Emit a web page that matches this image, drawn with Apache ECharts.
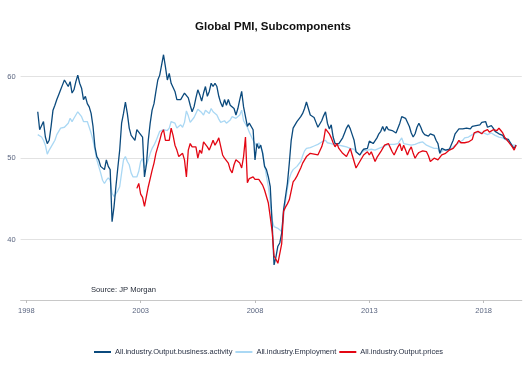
<!DOCTYPE html>
<html>
<head>
<meta charset="utf-8">
<script src="https://cdn.jsdelivr.net/npm/echarts@6/dist/echarts.min.js"></script>
<style>
  html, body { margin: 0; padding: 0; background: #fff; }
  #chart { width: 529px; height: 377px; }
</style>
</head>
<body>
<div id="chart"></div>
<script>
// monthly axis range and tick years
const firstMonth = [1997, 10]
const lastMonth = [2019, 9]
const tickYears = ['1998', '2003', '2008', '2013', '2018']

const seriesNames = ['All.industry.Output.business.activity', 'All.industry.Employment', 'All.industry.Output.prices']

// All.industry.Output.business.activity, from 1998-07
const activityStart = '1998-07'
const activity = [
  55.7, 53.5, 53.6, 54.5, 52.6, 51.8, 52.2, 53.9, 55.9, 56.5, 57.2, 57.8,
  58.4, 59.0, 59.6, 59.4, 58.8, 59.4, 58.0, 58.4, 59.4, 60.2, 59.2, 58.6,
  57.2, 57.6, 56.7, 56.3, 55.5, 53.9, 51.4, 50.2, 49.8, 49.0, 49.2, 48.6,
  49.8, 49.0, 48.6, 42.2, 44.0, 46.5, 48.8, 51.0, 54.3, 55.5, 56.9, 55.5,
  53.7, 52.8, 52.5, 52.2, 53.5, 53.2, 52.9, 52.6, 47.7, 49.2, 52.2, 54.3,
  55.9, 56.7, 58.2, 59.6, 60.2, 60.4, 62.7, 61.2, 59.6, 60.4, 59.2, 59.0,
  58.2, 57.2, 57.0, 57.2, 57.2, 58.0, 58.2, 57.4, 56.5, 55.7, 56.3, 57.4,
  58.4, 57.8, 57.0, 58.0, 58.8, 57.6, 58.2, 59.2, 58.8, 59.2, 58.8, 57.6,
  56.8, 56.3, 57.2, 56.5, 57.2, 56.5, 56.7, 56.1, 55.3, 56.1, 57.2, 58.2,
  56.3, 55.1, 53.9, 54.3, 54.3, 53.5, 49.8, 51.8, 51.2, 51.6, 50.6, 49.0,
  48.6, 47.7, 46.5, 42.0, 36.9, 37.9, 39.2, 39.6, 40.8, 43.7, 45.3, 46.9,
  49.4, 52.2, 53.7, 54.1, 54.5, 54.8, 55.1, 55.5, 56.1, 56.9, 56.1, 55.3,
  55.1, 55.0, 54.4, 53.8, 53.7, 54.6, 55.2, 55.7, 54.3, 53.6, 54.1, 52.6,
  51.8, 51.7, 51.8, 51.9, 52.5, 53.1, 53.7, 54.1, 53.6, 52.9, 52.2, 50.8,
  50.6, 50.4, 50.8, 51.1, 51.1, 51.2, 52.1, 52.0, 51.8, 52.0, 52.5, 53.0,
  53.3, 53.9, 53.3, 53.9, 53.5, 53.7, 53.4, 53.5, 53.1, 53.3, 54.3, 55.1,
  55.2, 54.9, 54.7, 53.9, 53.1, 52.6, 53.0, 53.8, 54.3, 53.8, 53.2, 52.9,
  53.0, 52.7, 53.0, 52.8, 52.8, 52.2, 51.8, 50.6, 51.2, 51.3, 51.0, 50.9,
  51.1, 51.3, 52.2, 53.0, 53.3, 53.6, 53.6, 53.6, 53.5, 53.7, 53.6, 53.6,
  53.9, 53.9, 54.0, 54.0, 54.1, 54.4, 54.6, 54.5, 53.8, 53.8, 54.0, 53.7,
  53.3, 53.1, 53.0, 52.8, 52.8, 52.4, 52.3, 52.3, 52.1, 51.5, 51.2, 51.6
]

// All.industry.Employment, from 1998-07
const employmentStart = '1998-07'
const employment = [
  52.9, 52.8, 52.6, 52.2, 51.6, 50.5, 51.0, 51.4, 51.8, 52.2, 52.9, 53.3,
  53.7, 53.6, 53.8, 53.9, 54.3, 54.9, 54.5, 54.9, 55.3, 55.7, 55.5, 55.1,
  54.5, 54.5, 54.5, 54.3, 53.1, 52.2, 51.0, 49.8, 49.0, 48.2, 47.3, 46.9,
  47.3, 47.6, 47.3, 45.7, 45.3, 45.5, 46.0, 46.5, 48.2, 49.8, 50.2, 49.6,
  49.2, 48.2, 47.7, 47.9, 47.7, 48.4, 49.6, 50.0, 48.8, 49.2, 49.8, 50.6,
  51.2, 51.6, 52.1, 52.7, 53.3, 53.5, 53.5, 53.6, 53.4, 53.7, 54.5, 54.3,
  54.3, 53.7, 53.8, 54.1, 53.8, 54.4, 55.8, 55.2, 54.4, 54.2, 55.0, 55.5,
  56.0, 56.2, 55.6, 55.3, 55.9, 55.7, 55.5, 56.1, 55.7, 55.5, 55.3, 54.8,
  54.4, 54.4, 54.6, 54.3, 54.5, 54.7, 55.1, 55.0, 54.9, 55.1, 55.3, 55.9,
  54.6, 54.2, 53.8, 53.2, 52.7, 52.2, 51.8, 51.4, 51.9, 52.1, 50.8, 49.2,
  47.8, 46.5, 44.6, 42.4, 41.6, 41.6, 41.4, 41.2, 41.0, 42.8, 44.7, 46.3,
  47.5, 48.2, 48.6, 48.8, 49.0, 49.2, 49.6, 50.3, 50.9, 51.2, 51.3, 51.3,
  51.4, 51.5, 51.6, 51.7, 51.8, 52.0, 52.1, 52.2, 51.9, 51.9, 51.8, 51.7,
  51.6, 51.8, 51.6, 51.5, 51.5, 51.4, 51.4, 51.2, 51.2, 51.3, 51.1, 50.8,
  50.6, 50.4, 50.6, 50.9, 51.0, 51.0, 51.1, 51.1, 51.0, 51.0, 51.1, 51.2,
  51.2, 51.4, 51.4, 51.6, 51.6, 51.7, 51.8, 51.7, 51.8, 51.8, 52.0, 52.5,
  51.8, 51.6, 51.7, 51.8, 51.6, 51.6, 51.7, 51.8, 51.9, 52.0, 52.0, 51.8,
  51.6, 51.4, 51.4, 51.3, 51.2, 51.2, 51.2, 50.6, 50.8, 51.0, 51.0, 51.0,
  51.1, 51.2, 51.4, 51.6, 51.8, 51.9, 52.0, 52.2, 52.5, 52.5, 52.6, 52.8,
  52.9, 53.0, 53.1, 53.3, 53.2, 53.1, 53.1, 53.0, 52.9, 53.0, 53.1, 52.9,
  52.8, 52.7, 52.6, 52.6, 52.5, 52.5, 52.2, 52.0, 51.9, 51.6, 51.4, 51.6
]

// All.industry.Output.prices, from 2002-11
const pricesStart = '2002-11'
const prices = [
  46.3, 46.9, 45.6, 45.2, 44.1, 44.3, 46.5, 47.5, 48.5, 49.4, 50.6, 51.4,
  52.2, 53.1, 53.5, 52.2, 52.4, 52.2, 53.7, 52.8, 51.6, 51.0, 50.2, 50.4,
  50.6, 49.8, 47.7, 51.0, 51.8, 51.4, 51.2, 51.4, 50.0, 51.0, 50.6, 52.0,
  52.2, 51.4, 51.0, 51.6, 52.2, 51.6, 52.0, 52.5, 52.6, 50.4, 50.0, 49.8,
  49.4, 48.6, 48.2, 49.2, 49.8, 49.6, 49.4, 48.8, 50.2, 52.6, 47.0, 47.5,
  47.3, 47.7, 47.4, 47.3, 47.4, 47.6, 46.7, 46.1, 45.3, 44.5, 42.8, 41.0,
  38.0, 37.6, 37.1, 36.9, 39.5, 43.5, 44.0, 44.4, 44.9, 46.0, 47.1, 47.4,
  47.8, 48.3, 48.8, 49.4, 49.8, 50.2, 50.4, 50.6, 50.4, 50.5, 50.4, 50.4,
  50.6, 51.4, 52.2, 53.6, 53.3, 53.0, 52.5, 51.9, 51.4, 51.8, 51.2, 50.9,
  50.6, 50.4, 50.2, 50.4, 51.2, 50.4, 49.6, 48.8, 49.2, 49.6, 50.0, 50.4,
  50.6, 50.8, 50.4, 50.8, 50.2, 49.6, 50.1, 49.9, 50.8, 51.2, 51.6, 51.8,
  51.8, 51.3, 50.8, 50.4, 50.9, 51.4, 51.8, 50.9, 51.6, 51.0, 50.4, 51.0,
  51.4, 50.6, 50.0, 50.4, 50.7, 50.8, 50.9, 51.1, 50.8, 50.3, 49.6, 49.8,
  50.0, 49.9, 49.8, 50.0, 50.4, 50.5, 50.6, 50.4, 51.0, 51.1, 51.2, 51.5,
  51.8, 52.2, 51.9, 51.8, 51.9, 51.9, 52.0, 51.8, 52.3, 53.1, 52.9, 53.3,
  53.1, 53.0, 53.3, 53.4, 53.5, 53.2, 53.3, 53.5, 53.7, 53.4, 53.7, 53.4,
  53.1, 52.6, 52.3, 52.0, 51.8, 51.4, 51.0, 51.6
]

const colors = ['#0b4a7d', '#aad8f4', '#e30613']

// month categories
const months = []
for (let y = firstMonth[0], m = firstMonth[1]; y < lastMonth[0] || (y === lastMonth[0] && m <= lastMonth[1]); ) {
  months.push(y + '-' + String(m).padStart(2, '0'))
  m++
  if (m > 12) { m = 1; y++ }
}

// place a series onto the month axis
const place = (start, values) => {
  const out = months.map(() => null)
  const i0 = months.indexOf(start)
  values.forEach((v, i) => { out[i0 + i] = v })
  return out
}

const isTick = (value) => value.slice(5) === '01' && tickYears.includes(value.slice(0, 4))

const chart = echarts.init(document.getElementById('chart'))

const option = {
  animation: false,
  backgroundColor: '#fff',
  title: [
    {
      text: 'Global PMI, Subcomponents',
      left: 195,
      top: 21,
      padding: 0,
      textStyle: { fontFamily: 'Liberation Sans, Arial', fontSize: 11.5, fontWeight: 'bold', color: '#111' }
    },
    {
      text: 'Source: JP Morgan',
      left: 91,
      top: 286,
      padding: 0,
      textStyle: { fontFamily: 'Liberation Sans, Arial', fontSize: 7.6, fontWeight: 'normal', color: '#1f2633' }
    }
  ],
  legend: {
    data: seriesNames,
    left: 94,
    top: 348,
    padding: 0,
    itemGap: 3,
    itemWidth: 17,
    itemHeight: 2,
    icon: 'rect',
    textStyle: { fontFamily: 'Liberation Sans, Arial', fontSize: 7.5, color: '#2a3245', padding: [0, 0, 0, -1] }
  },
  grid: {
    left: 20.6,
    right: 7.2,
    top: 36,
    bottom: 77
  },
  xAxis: {
    type: 'category',
    data: months,
    boundaryGap: false,
    axisLine: { lineStyle: { color: '#c8c8c8', width: 1 } },
    axisTick: {
      interval: (i, v) => isTick(v),
      length: 3,
      lineStyle: { color: '#bdbdbd' }
    },
    axisLabel: {
      interval: (i, v) => isTick(v),
      formatter: (v) => v.slice(0, 4),
      fontFamily: 'Liberation Sans, Arial',
      fontSize: 7.5,
      color: '#5b6680',
      margin: 7
    },
    splitLine: { show: false }
  },
  yAxis: {
    type: 'value',
    min: 32.6,
    max: 65,
    splitNumber: 3,
    axisLine: { show: false },
    axisTick: { show: false },
    axisLabel: {
      showMinLabel: false,
      showMaxLabel: false,
      fontFamily: 'Liberation Sans, Arial',
      fontSize: 7.5,
      color: '#5b6680',
      margin: 5
    },
    splitLine: {
      showMinLine: false,
      showMaxLine: false,
      lineStyle: { color: '#e2e2e2', width: 1 }
    }
  },
  series: [
    { name: seriesNames[0], data: place(activityStart, activity) },
    { name: seriesNames[1], data: place(employmentStart, employment) },
    { name: seriesNames[2], data: place(pricesStart, prices) }
  ].map((s, i) => ({
    ...s,
    type: 'line',
    symbol: 'none',
    color: colors[i],
    lineStyle: { width: 1.3, color: colors[i] },
    z: [3, 2, 4][i]
  }))
}

chart.setOption(option)
</script>
</body>
</html>
